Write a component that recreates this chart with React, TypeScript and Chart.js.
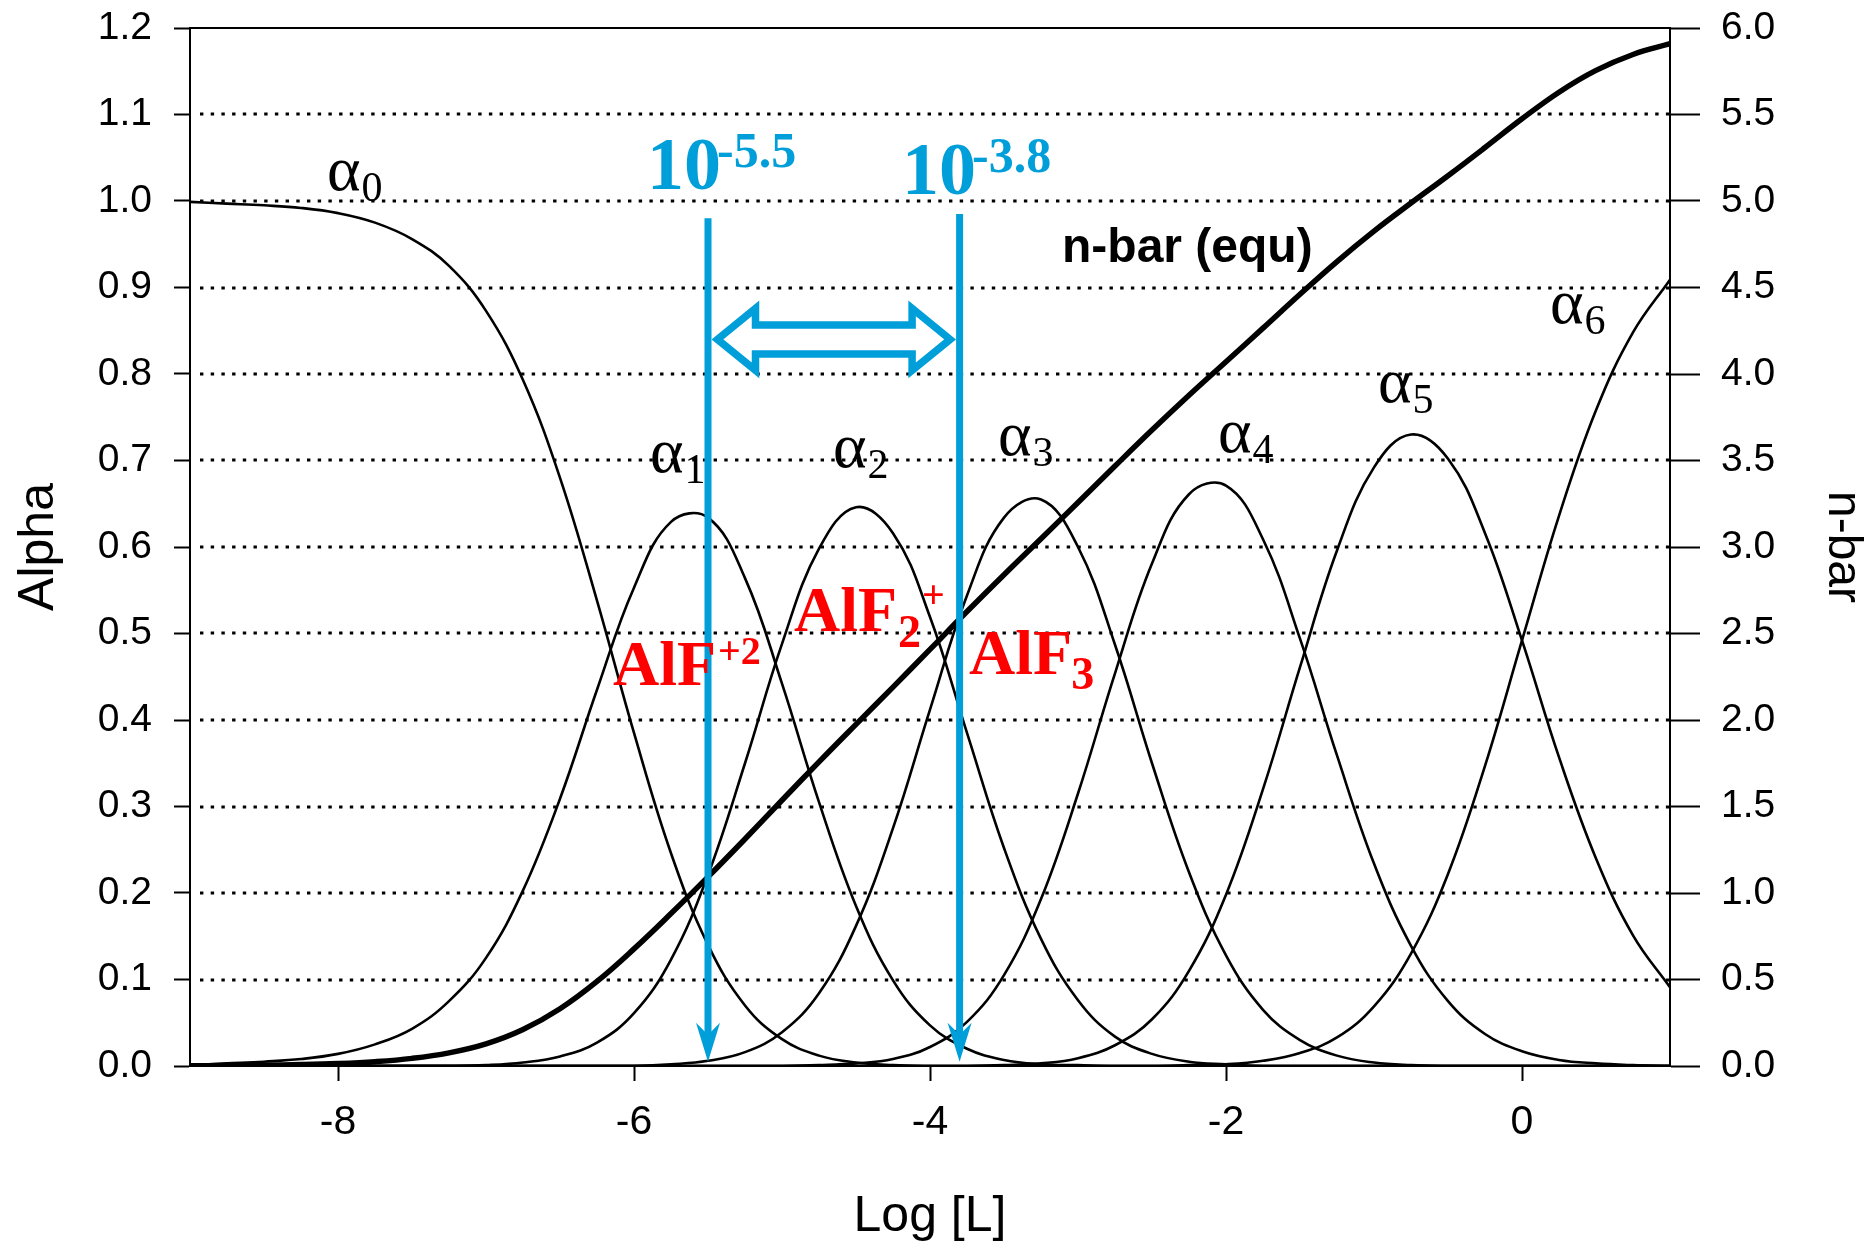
import React, { useEffect, useRef } from 'react';
import { Chart, registerables } from 'chart.js';

Chart.register(...registerables);

// ---- data: Al(III)–fluoride speciation vs log free ligand ----
const LOG_L = [
  -9, -8.75, -8.5, -8.25, -8, -7.75, -7.5, -7.25, -7, -6.75, -6.5, -6.25, -6, -5.75, -5.5, -5.25, -5,
  -4.75, -4.5, -4.25, -4, -3.75, -3.5, -3.25, -3, -2.75, -2.5, -2.25, -2, -1.75, -1.5, -1.25, -1,
  -0.75, -0.5, -0.25, 0, 0.25, 0.5, 0.75, 1,
];

const ALPHA_0 = [
  0.999, 0.997, 0.995, 0.992, 0.986, 0.975, 0.956, 0.925, 0.873, 0.793, 0.68, 0.538, 0.385, 0.246, 0.14,
  0.07, 0.031, 0.012, 0.004, 0.001, 0, 0, 0, 0, 0, 0, 0, 0, 0, 0, 0, 0, 0, 0, 0, 0, 0, 0, 0, 0, 0,
];
const ALPHA_1 = [
  0.001, 0.003, 0.005, 0.008, 0.014, 0.025, 0.043, 0.075, 0.125, 0.203, 0.309, 0.435, 0.553, 0.629, 0.634,
  0.564, 0.442, 0.305, 0.185, 0.099, 0.047, 0.02, 0.007, 0.002, 0.001, 0, 0, 0, 0, 0, 0, 0, 0, 0, 0, 0, 0,
  0, 0, 0, 0,
];
const ALPHA_2 = [
  0, 0, 0, 0, 0, 0, 0, 0, 0.001, 0.004, 0.011, 0.027, 0.061, 0.123, 0.221, 0.35, 0.488, 0.598, 0.646,
  0.616, 0.519, 0.385, 0.252, 0.147, 0.076, 0.034, 0.014, 0.005, 0.002, 0, 0, 0, 0, 0, 0, 0, 0, 0, 0, 0, 0,
];
const ALPHA_3 = [
  0, 0, 0, 0, 0, 0, 0, 0, 0, 0, 0, 0, 0, 0.002, 0.006, 0.016, 0.039, 0.084, 0.162, 0.275, 0.412, 0.544,
  0.634, 0.655, 0.6, 0.487, 0.35, 0.224, 0.128, 0.065, 0.03, 0.012, 0.004, 0.001, 0, 0, 0, 0, 0, 0, 0,
];
const ALPHA_4 = [
  0, 0, 0, 0, 0, 0, 0, 0, 0, 0, 0, 0, 0, 0, 0, 0, 0, 0.001, 0.003, 0.008, 0.022, 0.051, 0.105, 0.193,
  0.315, 0.454, 0.581, 0.661, 0.671, 0.609, 0.494, 0.359, 0.234, 0.139, 0.075, 0.037, 0.017, 0.007,
  0.003, 0.001, 0,
];
const ALPHA_5 = [
  0, 0, 0, 0, 0, 0, 0, 0, 0, 0, 0, 0, 0, 0, 0, 0, 0, 0, 0, 0, 0, 0, 0.001, 0.003, 0.009, 0.024, 0.054,
  0.11, 0.198, 0.32, 0.461, 0.596, 0.692, 0.73, 0.702, 0.616, 0.492, 0.357, 0.24, 0.151, 0.091,
];
const ALPHA_6 = [
  0, 0, 0, 0, 0, 0, 0, 0, 0, 0, 0, 0, 0, 0, 0, 0, 0, 0, 0, 0, 0, 0, 0, 0, 0, 0, 0, 0.001, 0.002, 0.006,
  0.015, 0.033, 0.069, 0.13, 0.222, 0.347, 0.492, 0.636, 0.758, 0.848, 0.909,
];
const N_BAR = [
  0.001, 0.003, 0.005, 0.008, 0.014, 0.025, 0.044, 0.076, 0.128, 0.211, 0.331, 0.489, 0.677, 0.881,
  1.093, 1.312, 1.536, 1.758, 1.975, 2.19, 2.408, 2.627, 2.84, 3.048, 3.257, 3.468, 3.676, 3.877, 4.071,
  4.265, 4.461, 4.65, 4.826, 4.988, 5.146, 5.309, 5.475, 5.629, 5.755, 5.847, 5.909,
];

const ALPHA_SERIES = [ALPHA_0, ALPHA_1, ALPHA_2, ALPHA_3, ALPHA_4, ALPHA_5, ALPHA_6];

// axis ticks
const LOG_L_TICKS = [-8, -6, -4, -2, 0];
const ALPHA_TICKS = [0, 0.1, 0.2, 0.3, 0.4, 0.5, 0.6, 0.7, 0.8, 0.9, 1.0, 1.1, 1.2];
const NBAR_TICKS = [0, 0.5, 1, 1.5, 2, 2.5, 3, 3.5, 4, 4.5, 5, 5.5, 6];
const GRID_LEVELS = [0.1, 0.2, 0.3, 0.4, 0.5, 0.6, 0.7, 0.8, 0.9, 1.0, 1.1];

// marked ligand concentrations (log [L]) and the span between them
const ARROW_LOG_L = [-5.5, -3.8];

// ---- annotation placement (data units: x = log [L], y = alpha) ----
const ARROW_TOPS = [0.98, 0.985];
const ARROW_TIP = 0.005;
const SPAN_LEVEL = 0.84;
const EXPONENT_LABEL_POS = [
  { x: -5.912, y: 1.014 },
  { x: -4.189, y: 1.008 },
];
const CURVE_LABEL_POS = [
  { x: -8.074, y: 1.013 },
  { x: -5.892, y: 0.687 },
  { x: -4.655, y: 0.693 },
  { x: -3.541, y: 0.706 },
  { x: -2.054, y: 0.71 },
  { x: -0.973, y: 0.768 },
  { x: 0.189, y: 0.859 },
];
const NBAR_LABEL_POS = { x: -3.108, y: 0.9295 };

const SANS = '"Liberation Sans", Arial, Helvetica, sans-serif';
const SERIF = '"Liberation Serif", "Times New Roman", Times, serif';
const BLUE = '#009FDA';
const RED = '#FF0000';

type Run = { text: string; font: string; dy?: number; gap?: number };

const SPECIES_LABELS: { x: number; y: number; runs: Run[] }[] = [
  {
    x: -6.142,
    y: 0.4405,
    runs: [
      { text: 'AlF', font: `bold 64px ${SERIF}` },
      { text: '+2', font: `bold 40px ${SERIF}`, dy: -21, gap: 2 },
    ],
  },
  {
    x: -4.919,
    y: 0.5029,
    runs: [
      { text: 'AlF', font: `bold 64px ${SERIF}` },
      { text: '2', font: `bold 46px ${SERIF}`, dy: 16, gap: 1 },
      { text: '+', font: `bold 40px ${SERIF}`, dy: -23, gap: 1 },
    ],
  },
  {
    x: -3.736,
    y: 0.4532,
    runs: [
      { text: 'AlF', font: `bold 64px ${SERIF}` },
      { text: '3', font: `bold 46px ${SERIF}`, dy: 15, gap: -1 },
    ],
  },
];

function drawRuns(ctx: CanvasRenderingContext2D, x0: number, y0: number, runs: Run[], color: string) {
  let cx = x0;
  ctx.fillStyle = color;
  ctx.textAlign = 'left';
  ctx.textBaseline = 'alphabetic';
  for (const r of runs) {
    cx += r.gap ?? 0;
    ctx.font = r.font;
    ctx.fillText(r.text, cx, y0 + (r.dy ?? 0));
    cx += ctx.measureText(r.text).width;
  }
}

const speciationPlugin = {
  id: 'speciationDecor',
  beforeDatasetsDraw(chart: any) {
    const { ctx, chartArea, scales } = chart;
    const y = scales.y;
    ctx.save();
    // dotted horizontal guides
    ctx.strokeStyle = '#000';
    ctx.lineWidth = 3;
    ctx.lineCap = 'butt';
    ctx.setLineDash([3.4, 7.3]);
    for (const v of GRID_LEVELS) {
      const py = Math.round(y.getPixelForValue(v));
      ctx.beginPath();
      ctx.moveTo(chartArea.left + 10, py);
      ctx.lineTo(chartArea.right, py);
      ctx.stroke();
    }
    ctx.setLineDash([]);
    // top frame line
    ctx.lineWidth = 2;
    const top = y.getPixelForValue(ALPHA_TICKS[ALPHA_TICKS.length - 1]);
    ctx.beginPath();
    ctx.moveTo(chartArea.left - 1, top);
    ctx.lineTo(chartArea.right + 1, top);
    ctx.stroke();
    ctx.restore();
  },
  afterDatasetsDraw(chart: any) {
    const { ctx, scales } = chart;
    const x = scales.x;
    const y = scales.y;
    ctx.save();

    // vertical arrows at the marked concentrations
    const xs = ARROW_LOG_L.map((v) => x.getPixelForValue(v));
    const tip = y.getPixelForValue(ARROW_TIP);
    xs.forEach((px: number, i: number) => {
      const top = y.getPixelForValue(ARROW_TOPS[i]);
      ctx.strokeStyle = BLUE;
      ctx.lineWidth = 7;
      ctx.lineCap = 'butt';
      ctx.beginPath();
      ctx.moveTo(px, top);
      ctx.lineTo(px, tip - 20);
      ctx.stroke();
      ctx.fillStyle = BLUE;
      ctx.beginPath();
      ctx.moveTo(px, tip);
      ctx.lineTo(px + 12, tip - 39);
      ctx.lineTo(px, tip - 27);
      ctx.lineTo(px - 12, tip - 39);
      ctx.closePath();
      ctx.fill();
    });

    // hollow double-headed arrow spanning the two concentrations
    const x1 = xs[0];
    const x2 = xs[1];
    const yc = y.getPixelForValue(SPAN_LEVEL);
    const inset = 9.5;
    const hl = 38;
    const hh = 31;
    const sh = 14.5;
    ctx.strokeStyle = BLUE;
    ctx.lineWidth = 7.5;
    ctx.lineJoin = 'miter';
    ctx.beginPath();
    ctx.moveTo(x1 + inset, yc);
    ctx.lineTo(x1 + inset + hl, yc - hh);
    ctx.lineTo(x1 + inset + hl, yc - sh);
    ctx.lineTo(x2 - inset - hl, yc - sh);
    ctx.lineTo(x2 - inset - hl, yc - hh);
    ctx.lineTo(x2 - inset, yc);
    ctx.lineTo(x2 - inset - hl, yc + hh);
    ctx.lineTo(x2 - inset - hl, yc + sh);
    ctx.lineTo(x1 + inset + hl, yc + sh);
    ctx.lineTo(x1 + inset + hl, yc + hh);
    ctx.closePath();
    ctx.stroke();

    // exponent labels above the arrows
    ARROW_LOG_L.forEach((v, i) => {
      const p = EXPONENT_LABEL_POS[i];
      drawRuns(
        ctx,
        x.getPixelForValue(p.x),
        y.getPixelForValue(p.y),
        [
          { text: '10', font: `bold 74px ${SERIF}` },
          { text: v.toFixed(1), font: `bold 50px ${SERIF}`, dy: -22, gap: -4 },
        ],
        BLUE,
      );
    });

    // curve labels alpha_n
    CURVE_LABEL_POS.forEach((p, n) => {
      drawRuns(
        ctx,
        x.getPixelForValue(p.x),
        y.getPixelForValue(p.y),
        [
          { text: 'α', font: `64px ${SERIF}` },
          { text: String(n), font: `42px ${SERIF}`, dy: 11, gap: 1 },
        ],
        '#000',
      );
    });

    // species names
    for (const s of SPECIES_LABELS) {
      drawRuns(ctx, x.getPixelForValue(s.x), y.getPixelForValue(s.y), s.runs, RED);
    }

    // n-bar curve label
    drawRuns(
      ctx,
      x.getPixelForValue(NBAR_LABEL_POS.x),
      y.getPixelForValue(NBAR_LABEL_POS.y),
      [{ text: 'n-bar (equ)', font: `bold 48px ${SANS}` }],
      '#000',
    );
    ctx.restore();
  },
  afterDraw(chart: any) {
    const { ctx, chartArea } = chart;
    const cy = (chartArea.top + chartArea.bottom) / 2;
    const cx = (chartArea.left + chartArea.right) / 2;
    ctx.save();
    ctx.fillStyle = '#000';
    ctx.font = `50px ${SANS}`;
    ctx.textAlign = 'center';
    ctx.textBaseline = 'alphabetic';
    ctx.fillText('Log [L]', cx, chartArea.bottom + 165);

    ctx.save();
    ctx.translate(53, cy);
    ctx.rotate(-Math.PI / 2);
    ctx.fillText('Alpha', 0, 0);
    ctx.restore();

    ctx.save();
    ctx.translate(1829, cy);
    ctx.rotate(Math.PI / 2);
    ctx.font = `48px ${SANS}`;
    ctx.fillText('n-bar', 0, 0);
    ctx.restore();
    ctx.restore();
  },
};

// vertical axes: fixed width, and no extra top/bottom room for end labels
const fitVertical = (width: number) => (s: any) => {
  s.width = width;
  s.paddingTop = 0;
  s.paddingBottom = 0;
};

export default function App() {
  const canvasRef = useRef<HTMLCanvasElement>(null);

  useEffect(() => {
    const canvas = canvasRef.current;
    if (!canvas) return;

    const lineStyle = {
      borderColor: '#000',
      pointRadius: 0,
      pointHoverRadius: 0,
      tension: 0.4,
      fill: false,
    };

    const datasets: any[] = ALPHA_SERIES.map((vals, n) => ({
      ...lineStyle,
      label: `α${n}`,
      data: LOG_L.map((x, i) => ({ x, y: vals[i] })),
      yAxisID: 'y',
      borderWidth: 2.6,
    }));
    datasets.push({
      ...lineStyle,
      label: 'n-bar (equ)',
      data: LOG_L.map((x, i) => ({ x, y: N_BAR[i] })),
      yAxisID: 'y2',
      borderWidth: 5.5,
    });

    const chart = new Chart(canvas, {
      type: 'line',
      data: { datasets },
      plugins: [speciationPlugin],
      options: {
        responsive: false,
        animation: false,
        events: [],
        layout: { padding: { top: 28, left: 0, right: 0, bottom: 0 } },
        plugins: { legend: { display: false }, tooltip: { enabled: false } },
        scales: {
          x: {
            type: 'linear',
            position: 'bottom',
            min: -9,
            max: 1,
            afterBuildTicks: (s: any) => {
              s.ticks = LOG_L_TICKS.map((v) => ({ value: v }));
            },
            afterFit: (s: any) => {
              s.height = 176;
              s.paddingLeft = 0;
              s.paddingRight = 0;
            },
            grid: { drawOnChartArea: false, drawTicks: true, tickLength: 15, tickWidth: 2, tickColor: '#000' },
            border: { display: true, color: '#000', width: 2 },
            ticks: {
              color: '#000',
              font: { family: SANS, size: 41 },
              padding: 17,
              maxRotation: 0,
              autoSkip: false,
              callback: (v: any) => String(v),
            },
          },
          y: {
            type: 'linear',
            position: 'left',
            min: 0,
            max: 1.2,
            afterBuildTicks: (s: any) => {
              s.ticks = ALPHA_TICKS.map((v) => ({ value: v }));
            },
            afterFit: fitVertical(190),
            grid: { drawOnChartArea: false, drawTicks: true, tickLength: 16, tickWidth: 2, tickColor: '#000' },
            border: { display: true, color: '#000', width: 2 },
            ticks: {
              color: '#000',
              font: { family: SANS, size: 39 },
              padding: 22,
              autoSkip: false,
              callback: (v: any) => Number(v).toFixed(1),
            },
          },
          y2: {
            type: 'linear',
            position: 'right',
            min: 0,
            max: 6,
            afterBuildTicks: (s: any) => {
              s.ticks = NBAR_TICKS.map((v) => ({ value: v }));
            },
            afterFit: fitVertical(198),
            grid: { drawOnChartArea: false, drawTicks: true, tickLength: 30, tickWidth: 2, tickColor: '#000' },
            border: { display: true, color: '#000', width: 2 },
            ticks: {
              color: '#000',
              font: { family: SANS, size: 39 },
              padding: 21,
              autoSkip: false,
              callback: (v: any) => Number(v).toFixed(1),
            },
          },
        },
      } as any,
    });

    return () => chart.destroy();
  }, []);

  return (
    <div style={{ position: 'absolute', left: 0, top: 0, width: 1868, height: 1242, background: '#fff' }}>
      <canvas ref={canvasRef} width={1868} height={1242} style={{ display: 'block', width: 1868, height: 1242 }} />
    </div>
  );
}
